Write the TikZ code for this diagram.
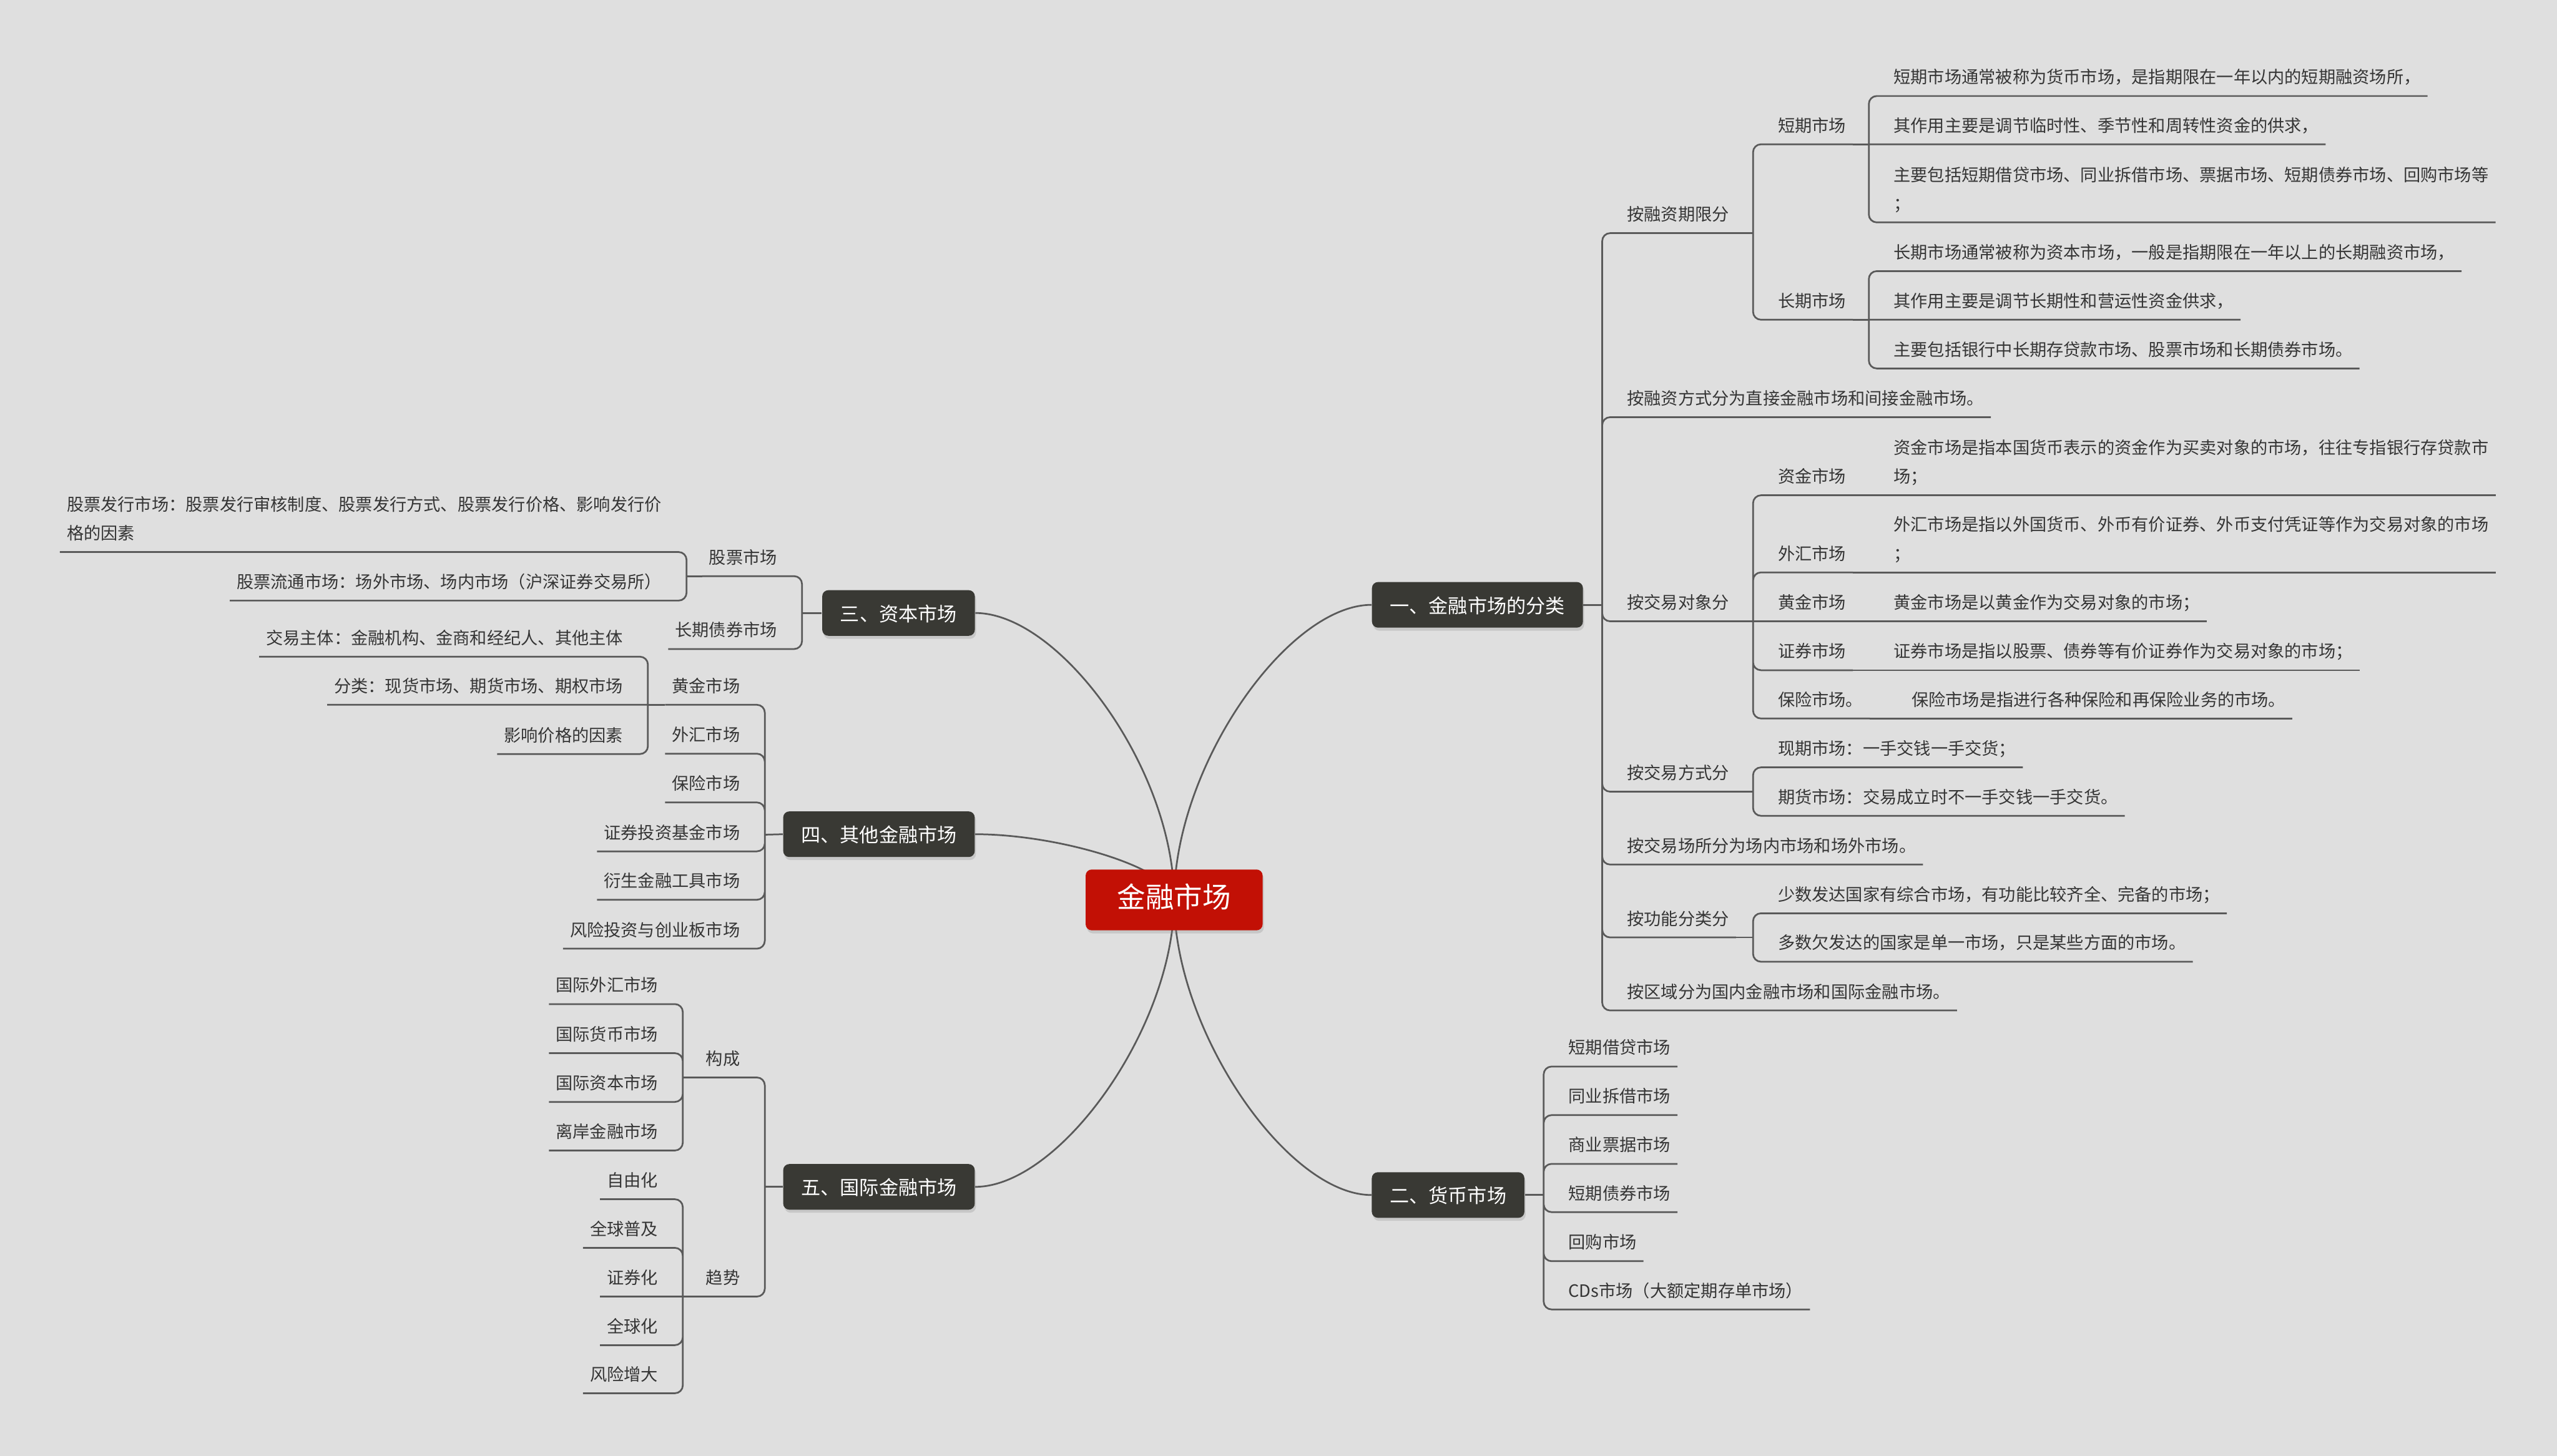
\documentclass[tikz,border=0pt]{standalone}
\usepackage{fontspec}
\newfontfamily\cjk{Noto Sans CJK SC}
\usetikzlibrary{shadows}

\definecolor{bgcol}{HTML}{DFDFDF}
\definecolor{linecol}{HTML}{5A5A5A}
\definecolor{boxcol}{HTML}{393934}
\definecolor{rootcol}{HTML}{C21005}
\definecolor{txtcol}{HTML}{353535}

\newcommand\twoln[2]{\begin{tabular}[b]{@{}l@{}}#1\\#2\end{tabular}}

\begin{document}
\begin{tikzpicture}[x=0.02681cm, y=-0.02681cm,
	link/.style={draw=linecol, line width=0.8pt, rounded corners=0.13cm},
	leaf/.style={inner xsep=0.107cm, inner ysep=4.45pt, text height=0.88em, text depth=0.12em,
		text=txtcol, font=\cjk\fontsize{7.95pt}{13.5pt}\selectfont},
	rleaf/.style={leaf, anchor=south west, xshift=0.295cm},
	lleaf/.style={leaf, anchor=south east, xshift=-0.295cm},
	mainbox/.style={fill=boxcol, text=white, rounded corners=0.1cm, minimum height=0.75cm,
		inner xsep=0.295cm, inner ysep=0pt, text height=0.88em, text depth=0.12em,
		font=\cjk\fontsize{9.1pt}{11pt}\selectfont,
		drop shadow={shadow xshift=0.02cm, shadow yshift=-0.05cm, opacity=0.25}},
	rootbox/.style={mainbox, fill=rootcol, minimum height=1cm, inner xsep=0.52cm,
		font=\cjk\fontsize{13.3pt}{16pt}\selectfont}
	]
	%\draw[help lines] (0,0) grid[step=100] (1568,893);
	\useasboundingbox[fill=bgcol] (0,0) rectangle (1568,893);

	\path
	coordinate (rc) at (720,552)
	coordinate (tr1) at (982.5,371)
	coordinate (k1a) at (1075,143)
	coordinate (k1a1) at (1146,88.5)
	coordinate (k1a2) at (1146,196.1)
	coordinate (k1c) at (1075,381.1)
	coordinate (k1c1) at (1146,303.8)
	coordinate (k1c2) at (1146,351.1)
	coordinate (k1c3) at (1146,381.1)
	coordinate (k1c4) at (1146,411.1)
	coordinate (k1c5) at (1157,440.7)
	coordinate (k1d) at (1075,485.6)
	coordinate (k1f) at (1075,575)
	coordinate (tr2) at (946.6,733)
	coordinate (tr3) at (491.8,376)
	coordinate (k3a) at (421,353.4)
	coordinate (tr4) at (469,512)
	coordinate (k4a) at (397.3,432.3)
	coordinate (tr5) at (469,728)
	coordinate (k5a) at (418.7,660.9)
	coordinate (k5b) at (418.7,795.3)
	;

	% main branches
	\node[mainbox] (b1) at (906,371) {一、金融市场的分类};
	\node[mainbox] (b2) at (888,733) {二、货币市场};
	\node[mainbox] (b3) at (551,376) {三、资本市场};
	\node[mainbox] (b4) at (539,511.7) {四、其他金融市场};
	\node[mainbox] (b5) at (539,728) {五、国际金融市场};

	% 一
	\node[rleaf] (n1a) at (982.5,143) {按融资期限分};
	\node[rleaf] (n1a1) at (1075,88.5) {短期市场};
	\node[rleaf] (n1a1x) at (1146,58.9) {短期市场通常被称为货币市场，是指期限在一年以内的短期融资场所，};
	\node[rleaf] (n1a1y) at (1146,88.5) {其作用主要是调节临时性、季节性和周转性资金的供求，};
	\node[rleaf] (n1a1z) at (1146,136.4) {\twoln{主要包括短期借贷市场、同业拆借市场、票据市场、短期债券市场、回购市场等}{；}};
	\node[rleaf] (n1a2) at (1075,196.1) {长期市场};
	\node[rleaf] (n1a2x) at (1146,166.3) {长期市场通常被称为资本市场，一般是指期限在一年以上的长期融资市场，};
	\node[rleaf] (n1a2y) at (1146,196.1) {其作用主要是调节长期性和营运性资金供求，};
	\node[rleaf] (n1a2z) at (1146,226) {主要包括银行中长期存贷款市场、股票市场和长期债券市场。};
	\node[rleaf] (n1b) at (982.5,255.9) {按融资方式分为直接金融市场和间接金融市场。};
	\node[rleaf] (n1c) at (982.5,381.1) {按交易对象分};
	\node[rleaf] (n1c1) at (1075,303.8) {资金市场};
	\node[rleaf] (n1c1x) at (1146,303.8) {\twoln{资金市场是指本国货币表示的资金作为买卖对象的市场，往往专指银行存贷款市}{场；}};
	\node[rleaf] (n1c2) at (1075,351.1) {外汇市场};
	\node[rleaf] (n1c2x) at (1146,351.1) {\twoln{外汇市场是指以外国货币、外币有价证券、外币支付凭证等作为交易对象的市场}{；}};
	\node[rleaf] (n1c3) at (1075,381.1) {黄金市场};
	\node[rleaf] (n1c3x) at (1146,381.1) {黄金市场是以黄金作为交易对象的市场；};
	\node[rleaf] (n1c4) at (1075,411.1) {证券市场};
	\node[rleaf] (n1c4x) at (1146,411.1) {证券市场是指以股票、债券等有价证券作为交易对象的市场；};
	\node[rleaf] (n1c5) at (1075,440.7) {保险市场。};
	\node[rleaf] (n1c5x) at (1157,440.7) {保险市场是指进行各种保险和再保险业务的市场。};
	\node[rleaf] (n1d) at (982.5,485.6) {按交易方式分};
	\node[rleaf] (n1d1) at (1075,470.7) {现期市场：一手交钱一手交货；};
	\node[rleaf] (n1d2) at (1075,500.4) {期货市场：交易成立时不一手交钱一手交货。};
	\node[rleaf] (n1e) at (982.5,530.3) {按交易场所分为场内市场和场外市场。};
	\node[rleaf] (n1f) at (982.5,575) {按功能分类分};
	\node[rleaf] (n1f1) at (1075,560.2) {少数发达国家有综合市场，有功能比较齐全、完备的市场；};
	\node[rleaf] (n1f2) at (1075,589.9) {多数欠发达的国家是单一市场，只是某些方面的市场。};
	\node[rleaf] (n1g) at (982.5,619.8) {按区域分为国内金融市场和国际金融市场。};

	% 二
	\node[rleaf] (n2a) at (946.6,654.2) {短期借贷市场};
	\node[rleaf] (n2b) at (946.6,684) {同业拆借市场};
	\node[rleaf] (n2c) at (946.6,713.9) {商业票据市场};
	\node[rleaf] (n2d) at (946.6,743.5) {短期债券市场};
	\node[rleaf] (n2e) at (946.6,773.6) {回购市场};
	\node[rleaf] (n2f) at (946.6,803.2) {CDs市场（大额定期存单市场）};

	% 三
	\node[lleaf] (n3a) at (491.8,353.4) {股票市场};
	\node[lleaf] (n3a1) at (421,338.6) {\twoln{股票发行市场：股票发行审核制度、股票发行方式、股票发行价格、影响发行价}{格的因素}};
	\node[lleaf] (n3a2) at (421,368.4) {股票流通市场：场外市场、场内市场（沪深证券交易所）};
	\node[lleaf] (n3b) at (491.8,398.1) {长期债券市场};

	% 四
	\node[lleaf] (n4a) at (469,432.3) {黄金市场};
	\node[lleaf] (n4a1) at (397.3,402.8) {交易主体：金融机构、金商和经纪人、其他主体};
	\node[lleaf] (n4a2) at (397.3,432.3) {分类：现货市场、期货市场、期权市场};
	\node[lleaf] (n4a3) at (397.3,462.5) {影响价格的因素};
	\node[lleaf] (n4b) at (469,462.3) {外汇市场};
	\node[lleaf] (n4c) at (469,492.2) {保险市场};
	\node[lleaf] (n4d) at (469,522.2) {证券投资基金市场};
	\node[lleaf] (n4e) at (469,551.9) {衍生金融工具市场};
	\node[lleaf] (n4f) at (469,581.9) {风险投资与创业板市场};

	% 五
	\node[lleaf] (n5a) at (469,660.9) {构成};
	\node[lleaf] (n5a1) at (418.7,615.9) {国际外汇市场};
	\node[lleaf] (n5a2) at (418.7,646) {国际货币市场};
	\node[lleaf] (n5a3) at (418.7,675.9) {国际资本市场};
	\node[lleaf] (n5a4) at (418.7,705.7) {离岸金融市场};
	\node[lleaf] (n5b) at (469,795.3) {趋势};
	\node[lleaf] (n5b1) at (418.7,735.6) {自由化};
	\node[lleaf] (n5b2) at (418.7,765.4) {全球普及};
	\node[lleaf] (n5b3) at (418.7,795.3) {证券化};
	\node[lleaf] (n5b4) at (418.7,825.1) {全球化};
	\node[lleaf] (n5b5) at (418.7,854.6) {风险增大};

	% underlines and trunks
	\draw[link] (b1.east) -- (tr1);
	\draw[link] (tr1) |- (n1a.south east) (tr1) |- (n1b.south east) (tr1) |- (n1c.south east)
		(tr1) |- (n1d.south east) (tr1) |- (n1e.south east) (tr1) |- (n1f.south east)
		(tr1) |- (n1g.south east);
	\draw[link] (n1a.south east) -- (k1a);
	\draw[link] (k1a) |- (n1a1.south east) (k1a) |- (n1a2.south east);
	\draw[link] (n1a1.south east) -- (k1a1);
	\draw[link] (k1a1) |- (n1a1x.south east) (k1a1) -- (n1a1y.south east) (k1a1) |- (n1a1z.south east);
	\draw[link] (n1a2.south east) -- (k1a2);
	\draw[link] (k1a2) |- (n1a2x.south east) (k1a2) -- (n1a2y.south east) (k1a2) |- (n1a2z.south east);
	\draw[link] (n1c.south east) -- (k1c);
	\draw[link] (k1c) |- (n1c1.south east) (k1c) |- (n1c2.south east) (k1c) -- (n1c3.south east)
		(k1c) |- (n1c4.south east) (k1c) |- (n1c5.south east);
	\draw[link] (n1c1.south east) -- (k1c1) -- (n1c1x.south east);
	\draw[link] (n1c2.south east) -- (k1c2) -- (n1c2x.south east);
	\draw[link] (n1c3.south east) -- (k1c3) -- (n1c3x.south east);
	\draw[link] (n1c4.south east) -- (k1c4) -- (n1c4x.south east);
	\draw[link] (n1c5.south east) -- (k1c5) -- (n1c5x.south east);
	\draw[link] (n1d.south east) -- (k1d);
	\draw[link] (k1d) |- (n1d1.south east) (k1d) |- (n1d2.south east);
	\draw[link] (n1f.south east) -- (k1f);
	\draw[link] (k1f) |- (n1f1.south east) (k1f) |- (n1f2.south east);

	\draw[link] (b2.east) -- (tr2);
	\draw[link] (tr2) |- (n2a.south east) (tr2) |- (n2b.south east) (tr2) |- (n2c.south east)
		(tr2) |- (n2d.south east) (tr2) |- (n2e.south east) (tr2) |- (n2f.south east);

	\draw[link] (b3.west) -- (tr3);
	\draw[link] (tr3) |- (n3a.south west) (tr3) |- (n3b.south west);
	\draw[link] (n3a.south west) -- (k3a);
	\draw[link] (k3a) |- (n3a1.south west) (k3a) |- (n3a2.south west);

	\draw[link] (b4.west) -- (tr4);
	\draw[link] (tr4) |- (n4a.south west) (tr4) |- (n4b.south west) (tr4) |- (n4c.south west)
		(tr4) |- (n4d.south west) (tr4) |- (n4e.south west) (tr4) |- (n4f.south west);
	\draw[link] (n4a.south west) -- (k4a);
	\draw[link] (k4a) |- (n4a1.south west) (k4a) -- (n4a2.south west) (k4a) |- (n4a3.south west);

	\draw[link] (b5.west) -- (tr5);
	\draw[link] (tr5) |- (n5a.south west) (tr5) |- (n5b.south west);
	\draw[link] (n5a.south west) -- (k5a);
	\draw[link] (k5a) |- (n5a1.south west) (k5a) |- (n5a2.south west) (k5a) |- (n5a3.south west)
		(k5a) |- (n5a4.south west);
	\draw[link] (n5b.south west) -- (k5b);
	\draw[link] (k5b) |- (n5b1.south west) (k5b) |- (n5b2.south west) (k5b) -- (n5b3.south west)
		(k5b) |- (n5b4.south west) (k5b) |- (n5b5.south west);

	% curves from the centre
	\draw[link] (rc) .. controls (720,470) and (789.5,371) .. (b1.west);
	\draw[link] (rc) .. controls (720,632.5) and (789.5,733) .. (b2.west);
	\draw[link] (rc) .. controls (720,472) and (650,376) .. (b3.east);
	\draw[link] (rc) .. controls (720,533) and (650,511.7) .. (b4.east);
	\draw[link] (rc) .. controls (720,630) and (650,728) .. (b5.east);

	\node[rootbox] (root) at (rc) {金融市场};

\end{tikzpicture}
\end{document}
